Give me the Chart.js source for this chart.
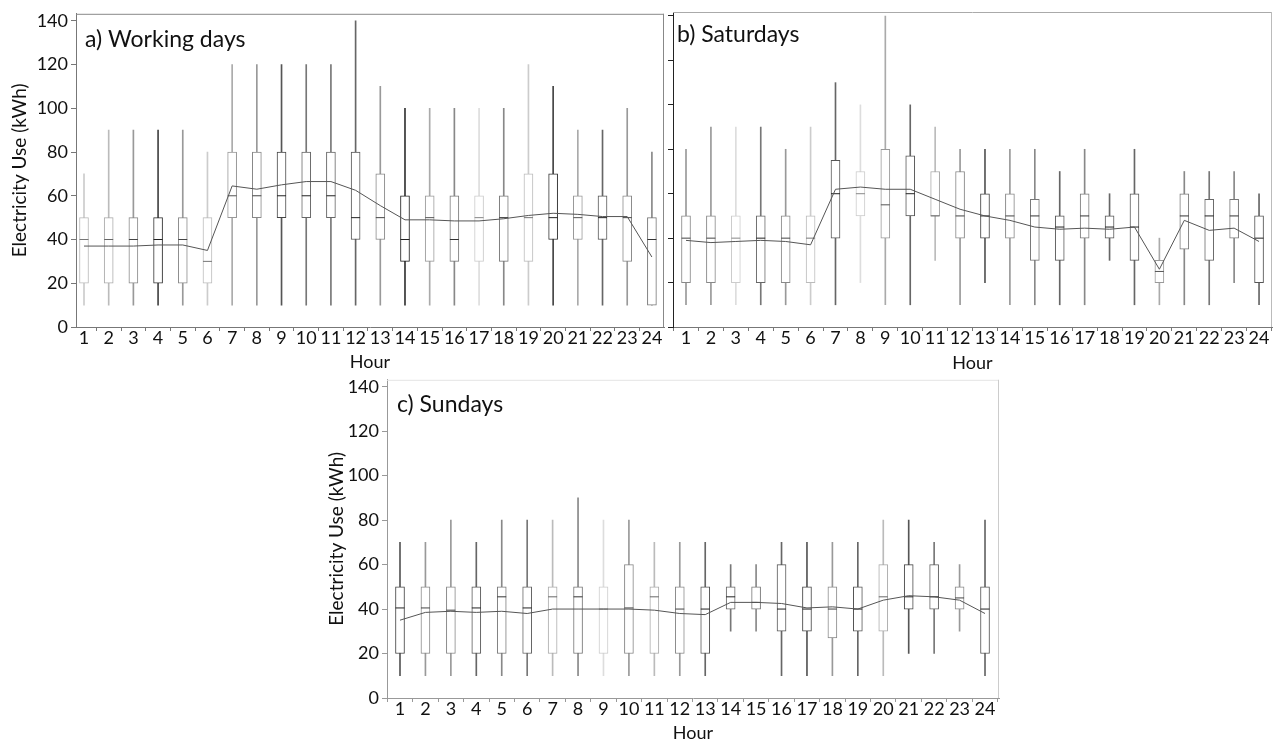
<!DOCTYPE html>
<html><head><meta charset="utf-8">
<script src="https://cdn.jsdelivr.net/npm/chart.js@4.4.1/dist/chart.umd.min.js"></script>
<style>
html,body{margin:0;padding:0;background:#fff;}
body{width:1283px;height:744px;position:relative;overflow:hidden;}
.p{position:absolute;}
</style></head><body>
<div class="p" style="left:0px;top:0px;width:670px;height:375px"><canvas id="ca"></canvas></div>
<div class="p" style="left:666px;top:0px;width:614px;height:375px"><canvas id="cb"></canvas></div>
<div class="p" style="left:318px;top:366px;width:690px;height:378px"><canvas id="cc"></canvas></div>
<script>
// ---------- DATA ----------
const hours = [1,2,3,4,5,6,7,8,9,10,11,12,13,14,15,16,17,18,19,20,21,22,23,24];
const yTicks = [0,20,40,60,80,100,120,140];

// a) Working days
const minA  = [10,10,10,10,10,10,10,10,10,10,10,10,10,10,10,10,10,10,10,10,10,10,10,10];
const q1A   = [20,20,20,20,20,20,50,50,50,50,50,40,40,30,30,30,30,30,30,40,40,40,30,10];
const medA  = [40,40,40,40,40,30,60,60,60,60,60,50,50,40,50,40,50,50,50,50,50,50,50,40];
const q3A   = [50,50,50,50,50,50,80,80,80,80,80,80,70,60,60,60,60,60,70,70,60,60,60,50];
const maxA  = [70,90,90,90,90,80,120,120,120,120,120,140,110,100,100,100,100,100,120,110,90,90,100,80];
const meanA = [37,37,37,37.5,37.5,35,64.5,63,65,66.5,66.5,62.5,55.5,49,49,48.5,48.5,49.5,51,52,51.5,50.5,50.5,32];

// b) Saturdays
const minB  = [10,10,10,10,10,10,10,20,10,10,30,10,20,10,10,10,10,30,10,10,10,10,20,10];
const q1B   = [20,20,20,20,20,20,40,50,40,50,50,40,40,40,30,30,40,40,30,20,35,30,40,20];
const medB  = [40,40,40,40,40,40,60,60,55,60,50,50,50,50,50,45,50,45,45,25,50,50,50,40];
const q3B   = [50,50,50,50,50,50,75,70,80,77,70,70,60,60,57.5,50,60,50,60,30,60,57.5,57.5,50];
const maxB  = [80,90,90,90,80,90,110,100,140,100,90,80,80,80,80,70,80,60,80,40,70,70,70,60];
const meanB = [39,38,38.5,39,38.5,37,62,63,62,62,57.5,53,50,48,45,44,44.5,44,45,26,48,43.5,44.5,38.5];

// c) Sundays
const minC  = [10,10,10,10,10,10,10,10,10,10,10,10,10,30,30,10,10,10,10,10,20,20,30,10];
const q1C   = [20,20,20,20,20,20,20,20,20,20,20,20,20,40,40,30,30,27,30,30,40,40,40,20];
const medC  = [40.5,40.5,39.5,40.5,45.5,40.5,45.5,45.5,40,40.5,45.5,40,40,45.5,43,40,40,40,40,45.5,45.5,45.5,45,40];
const q3C   = [50,50,50,50,50,50,50,50,50,60,50,50,50,50,50,60,50,50,50,60,60,60,50,50];
const maxC  = [70,70,80,70,80,80,80,90,80,80,70,70,70,60,60,70,70,70,70,80,80,70,60,80];
const meanC = [35,38.5,39,38.5,39,38,40,40,40,40,39.5,38,37.5,43,43,42.5,40.5,41,40,44,46,45.5,44,38];

// ---------- STYLE ----------
const shadeA = ['#bbb','#aaa','#888','#333','#888','#bbb','#999','#888','#444','#666','#666','#555','#888','#222','#999','#777','#ccc','#777','#bbb','#333','#999','#555','#888','#777'];
const shadeB = ['#888','#888','#ccc','#666','#888','#bbb','#555','#ccc','#999','#555','#aaa','#888','#444','#888','#777','#555','#777','#555','#555','#999','#777','#666','#777','#555'];
const shadeC = ['#444','#888','#888','#555','#777','#666','#aaa','#777','#ccc','#888','#aaa','#888','#555','#666','#777','#555','#444','#888','#555','#aaa','#444','#666','#888','#555'];
const FONT = 'Lato, "Open Sans", sans-serif';

function darker(hex){
  const v = parseInt(hex.slice(1,2),16);
  const d = Math.max(2, v-4).toString(16);
  return '#'+d+d+d;
}
function lighter(hex){
  const v = parseInt(hex.slice(1,2),16);
  const d = Math.min(13, v+1).toString(16);
  return '#'+d+d+d;
}

const framePlugin = {
  id:'frame',
  afterDatasetsDraw(chart, args, opts){
    const {ctx, chartArea:a} = chart;
    ctx.save();
    ctx.lineWidth = 1;
    ctx.strokeStyle = opts.topColor;
    ctx.beginPath(); ctx.moveTo(a.left, a.top+0.5); ctx.lineTo(a.right, a.top+0.5); ctx.stroke();
    ctx.strokeStyle = opts.rightColor;
    ctx.beginPath(); ctx.moveTo(a.right-0.5, a.top); ctx.lineTo(a.right-0.5, a.bottom); ctx.stroke();
    ctx.restore();
  },
  afterDraw(chart, args, opts){
    const {ctx, chartArea:a} = chart;
    ctx.save();
    ctx.fillStyle = '#111';
    ctx.font = '23px ' + FONT;
    ctx.textBaseline = 'middle';
    ctx.textAlign = 'left';
    ctx.fillText(opts.label, a.left + opts.dx, a.top + opts.dy);
    ctx.restore();
  }
};

function makePanel(id, mins, q1s, meds, q3s, maxs, means, shades, p){
  const datasets = [
    {type:'bar', data: hours.map((h,i)=>({x:h, y:[mins[i], maxs[i]]})),
     backgroundColor: shades.map(lighter), borderWidth:0, barThickness:1, grouped:false, order:3},
    {type:'bar', data: hours.map((h,i)=>({x:h, y:[q1s[i], q3s[i]]})),
     backgroundColor:'#fff', borderColor: shades, borderWidth:1, borderSkipped:false,
     barThickness:9, grouped:false, order:2},
    {type:'line', data: hours.map((h,i)=>({x:h, y:meds[i]})), showLine:false,
     pointStyle:'line', pointRadius:4.5, pointHoverRadius:4.5,
     pointBorderColor: shades.map(darker), pointBorderWidth:1, order:1},
    {type:'line', data: hours.map((h,i)=>({x:h, y:means[i]})), borderColor:'#555',
     borderWidth:1, pointRadius:0, tension:0, order:0}
  ];
  return new Chart(document.getElementById(id), {
    type:'bar',
    data:{datasets},
    plugins:[framePlugin],
    options:{
      responsive:true, maintainAspectRatio:false, animation:false,
      layout:{padding:{top:p.top, right:p.right, left:0, bottom:0}},
      plugins:{legend:{display:false}, tooltip:{enabled:false},
        frame:{topColor:p.topColor, rightColor:p.rightColor, label:p.label, dx:p.tdx, dy:p.tdy}},
      scales:{
        x:{type:'linear', min:p.xmin, max:p.xmax, offset:false,
          afterBuildTicks: s => { s.ticks = hours.map(v=>({value:v})); },
          afterFit: s => { s.height = p.xh; },
          grid:{display:true, drawOnChartArea:false, drawTicks:true, tickLength:4, color:p.axisColor},
          border:{display:true, color:p.axisColor, width:1},
          ticks:{autoSkip:false, maxRotation:0, minRotation:0, padding:p.xpad, color:'#111', font:{family:FONT, size:18}},
          title:{display:true, text:'Hour', color:'#111', font:{family:FONT, size:18}, padding:{top:0, bottom:p.hourPad}}
        },
        y:{type:'linear', min:0, max:p.ymax,
          afterBuildTicks: s => { s.ticks = yTicks.map(v=>({value:v})); },
          afterFit: s => { s.width = p.yw; },
          grid:{display:true, drawOnChartArea:false, drawTicks:true, tickLength:5, color:p.yAxisColor},
          border:{display:true, color:p.yAxisColor, width:1},
          ticks:{display:p.yLabels, padding:3, color:'#111', font:{family:FONT, size:18}},
          title:{display:p.yLabels, text:'Electricity Use (kWh)', color:'#111', font:{family:FONT, size:19}, padding:{top:p.ytp, bottom:0}}
        }
      }
    }
  });
}

makePanel('ca', minA, q1A, medA, q3A, maxA, meanA, shadeA, {
  top:9, right:6, xmin:0.676, xmax:24.49, ymax:143.2, xh:48, yw:76, xpad:-4, hourPad:2, ytp:8,
  axisColor:'#777', yAxisColor:'#777', topColor:'#888', rightColor:'#888', yLabels:true,
  label:'a) Working days', tdx:9, tdy:26
});
makePanel('cb', minB, q1B, medB, q3B, maxB, meanB, shadeB, {
  top:12, right:8, xmin:0.478, xmax:24.52, ymax:141.8, xh:48, yw:7, xpad:-4, hourPad:1, ytp:0,
  axisColor:'#777', yAxisColor:'#222', topColor:'#aaa', rightColor:'#bbb', yLabels:false,
  label:'b) Saturdays', tdx:4, tdy:23
});
makePanel('cc', minC, q1C, medC, q3C, maxC, meanC, shadeC, {
  top:12, right:9, xmin:0.489, xmax:24.55, ymax:143.1, xh:46, yw:69, xpad:-4, hourPad:0, ytp:7,
  axisColor:'#999', yAxisColor:'#999', topColor:'#e4e4e4', rightColor:'#ccc', yLabels:true,
  label:'c) Sundays', tdx:10, tdy:25
});
</script>
</body></html>
